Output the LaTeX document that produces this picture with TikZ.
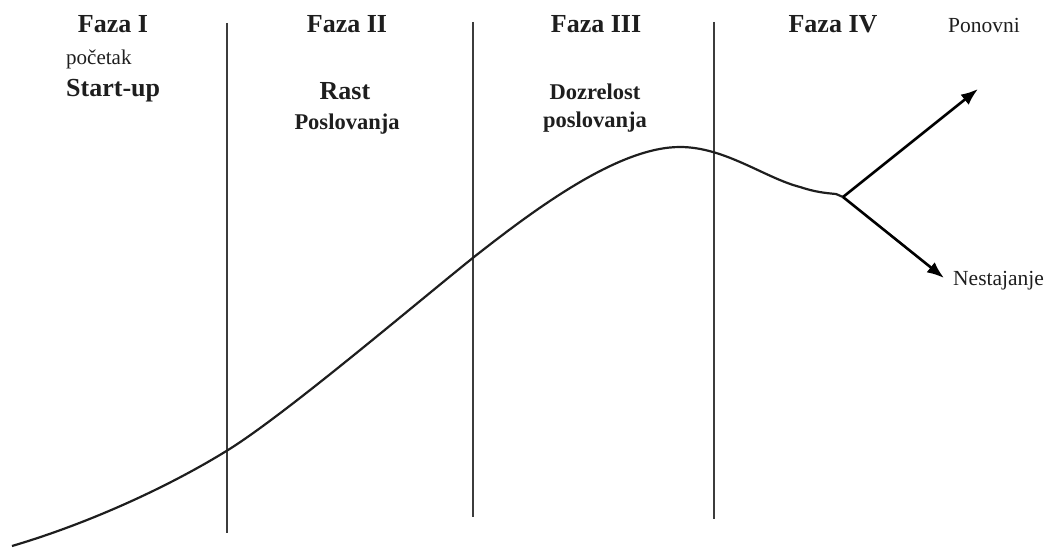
\documentclass[tikz,border=0pt]{standalone}
\usepackage{fontspec}
\setmainfont{Liberation Serif}
\usetikzlibrary{arrows.meta}
\definecolor{ink}{RGB}{30,30,30}
\definecolor{rule}{RGB}{60,60,60}
\begin{document}
\begin{tikzpicture}[x=1pt,y=-1pt,
  head/.style={anchor=base,inner sep=0pt,font=\fontsize{26}{28}\selectfont\bfseries,text=ink},
  sub/.style={anchor=base,inner sep=0pt,font=\fontsize{22.5}{24}\selectfont\bfseries,text=ink},
  plain/.style={anchor=base west,inner sep=0pt,font=\fontsize{21.5}{23}\selectfont,text=ink},
  divider/.style={draw=rule,line width=2.2pt},
  curve/.style={draw=ink,line width=2.2pt},
  branch/.style={draw=black,line width=2.6pt,-{Latex[length=17pt,width=13pt]}}]
\useasboundingbox (0,0) rectangle (1052,548);
% dividers
\coordinate (d1t) at (227,23); \coordinate (d1b) at (227,533);
\coordinate (d2t) at (473,22); \coordinate (d2b) at (473,517);
\coordinate (d3t) at (714,22); \coordinate (d3b) at (714,519);
\draw[divider] (d1t) -- (d1b);
\draw[divider] (d2t) -- (d2b);
\draw[divider] (d3t) -- (d3b);
% texts
\node[head] (f1) at (113,33) {Faza I};
\node[plain,font=\fontsize{21}{23}\selectfont] (poc) at (66,65) {početak};
\node[head,anchor=base west] (su) at (66,97) {Start-up};
\node[head] (f2) at (347,33) {Faza II};
\node[head] (rast) at (345,100) {Rast};
\node[sub] (posl1) at (347,130) {Poslovanja};
\node[head] (f3) at (596,33) {Faza III};
\node[sub] (doz) at (595,100) {Dozrelost};
\node[sub] (posl2) at (595,128) {poslovanja};
\node[head] (f4) at (833,33) {Faza IV};
\node[plain] (pon) at (948,33) {Ponovni};
\node[plain] (nes) at (953,285) {Nestajanje};
% life-cycle curve
\coordinate (c0) at (12,546);
\coordinate (c1) at (228,450);
\coordinate (c2) at (474,257);
\coordinate (c3) at (680,147);
\coordinate (c4) at (800,187);
\coordinate (c5) at (836,194);
\coordinate (bp) at (843,197);
\draw[curve,line join=round] (c0) .. controls (90,523) and (170,486) .. (c1)
  .. controls (286,414) and (414,305) .. (c2)
  .. controls (540,205) and (620,147) .. (c3)
  .. controls (725,147) and (765,178) .. (c4)
  .. controls (815,192) and (825,193) .. (c5) -- (bp);
% branches
\coordinate (up) at (978,89);
\coordinate (dn) at (944,278);
\draw[branch] (bp) -- (up);
\draw[branch] (bp) -- (dn);
\end{tikzpicture}
\end{document}
